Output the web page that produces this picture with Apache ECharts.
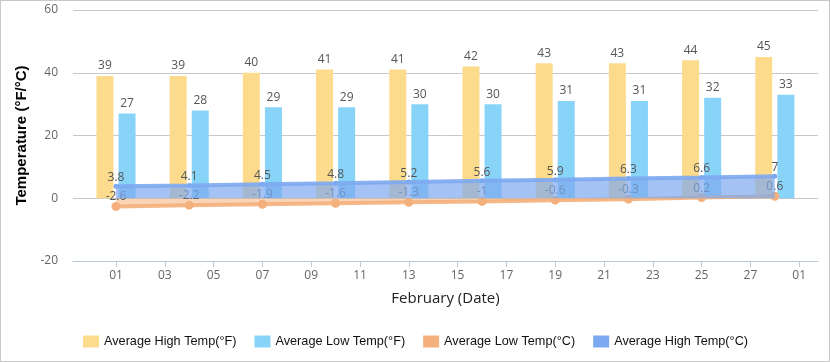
<!DOCTYPE html>
<html>
<head>
<meta charset="utf-8">
<script src="https://cdn.jsdelivr.net/npm/echarts@6/dist/echarts.min.js"></script>
<style>
html,body{margin:0;padding:0;background:#fff;}
#c{width:828px;height:360px;border:1px solid #c8c8c8;}
</style>
</head>
<body>
<div id="c"></div>
<script>
// Day of February for each data point
var days = [1, 4, 7, 10, 13, 16, 19, 22, 25, 28];
var highF = [39, 39, 40, 41, 41, 42, 43, 43, 44, 45];
var lowF = [27, 28, 29, 29, 30, 30, 31, 31, 32, 33];
var lowC = [-2.6, -2.2, -1.9, -1.6, -1.3, -1, -0.6, -0.3, 0.2, 0.6];
var highC = [3.8, 4.1, 4.5, 4.8, 5.2, 5.6, 5.9, 6.3, 6.6, 7];
// x tick positions (day index, 29 = March 1) and their labels
var tickPos = [1, 3, 5, 7, 9, 11, 13, 15, 17, 19, 21, 23, 25, 27, 29];
var tickLabels = ['01', '03', '05', '07', '09', '11', '13', '15', '17', '19', '21', '23', '25', '27', '01'];
var yTicks = [-20, 0, 20, 40, 60];

function pairs(vals) {
  return days.map(function (d, i) { return [d, vals[i]]; });
}

var chart = echarts.init(document.getElementById('c'), null, {renderer: 'canvas'});
var lblFont = '"Open Sans", sans-serif';
var option = {
  animation: false,
  textStyle: {fontFamily: lblFont},
  grid: {left: 72, right: 11, top: 9, bottom: 100, containLabel: false},
  legend: {
    top: 334,
    left: 82,
    padding: 0,
    itemWidth: 16,
    itemHeight: 12,
    itemGap: 18,
    icon: 'rect',
    textStyle: {fontFamily: '"Liberation Sans", Arial, sans-serif', fontSize: 12.7, color: '#111'},
    data: ['Average High Temp(°F)', 'Average Low Temp(°F)', 'Average Low Temp(°C)', 'Average High Temp(°C)']
  },
  xAxis: {
    type: 'value',
    min: -0.762,
    max: 29.77,
    name: 'February (Date)',
    nameLocation: 'middle',
    nameGap: 30,
    nameTextStyle: {fontSize: 15, color: '#222', fontFamily: lblFont},
    splitLine: {show: false},
    axisLine: {show: true, onZero: false, lineStyle: {color: '#b9c8dc'}},
    axisTick: {show: true, length: 6, customValues: tickPos, lineStyle: {color: '#b9c8dc'}},
    axisLabel: {
      customValues: tickPos,
      margin: 9,
      fontSize: 12,
      color: '#666',
      formatter: function (v) {
        var i = tickPos.indexOf(v);
        return i >= 0 ? tickLabels[i] : '';
      }
    }
  },
  yAxis: {
    type: 'value',
    min: yTicks[0],
    max: yTicks[yTicks.length - 1],
    interval: 20,
    name: 'Temperature (°F/°C)',
    nameLocation: 'middle',
    nameGap: 35,
    nameTextStyle: {fontSize: 15, fontWeight: 'bold', color: '#000', fontFamily: '"Liberation Sans", Arial, sans-serif'},
    axisLine: {show: false},
    axisTick: {show: false},
    axisLabel: {fontSize: 12, color: '#666', margin: 15},
    splitLine: {lineStyle: {color: '#c8c8c8'}}
  },
  series: [
    {
      name: 'Average High Temp(°F)',
      type: 'bar',
      barWidth: 17,
      barGap: '30%',
      data: pairs(highF),
      itemStyle: {color: '#fddb8c'},
      label: {show: true, position: 'top', distance: 4, fontSize: 12, color: '#555'}
    },
    {
      name: 'Average Low Temp(°F)',
      type: 'bar',
      barWidth: 17,
      barGap: '30%',
      data: pairs(lowF),
      itemStyle: {color: '#88d4f9'},
      label: {show: true, position: 'top', distance: 4, fontSize: 12, color: '#555'}
    },
    {
      name: 'Average Low Temp(°C)',
      type: 'line',
      data: pairs(lowC),
      symbol: 'circle',
      symbolSize: 9,
      itemStyle: {color: '#f4b07c'},
      lineStyle: {color: '#f4b07c', width: 4, opacity: 0.9},
      areaStyle: {color: '#f4b07c', opacity: 0.55},
      label: {show: true, position: 'top', distance: -1, fontSize: 12, color: '#555'},
      z: 3
    },
    {
      name: 'Average High Temp(°C)',
      type: 'line',
      data: pairs(highC),
      symbol: 'circle',
      symbolSize: 5,
      itemStyle: {color: '#7da9f0'},
      lineStyle: {color: '#7da9f0', width: 4, opacity: 0.9},
      areaStyle: {color: '#7da9f0', opacity: 0.7},
      label: {show: true, position: 'top', distance: 0, fontSize: 12, color: '#555'},
      z: 4
    }
  ]
};
chart.setOption(option);
</script>
</body>
</html>
